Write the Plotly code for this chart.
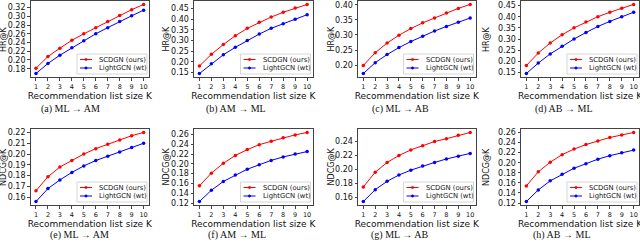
import plotly.graph_objects as go

# ---------------- data ----------------
K = [1, 2, 3, 4, 5, 6, 7, 8, 9, 10]
series_names = ["SCDGN (ours)", "LightGCN (wt)"]

hr_ml_am_scdgn = [0.181, 0.208, 0.227, 0.245, 0.260, 0.274, 0.288, 0.302, 0.315, 0.327]
hr_ml_am_lgcn = [0.169, 0.192, 0.211, 0.228, 0.244, 0.260, 0.274, 0.288, 0.301, 0.314]
hr_am_ml_scdgn = [0.180, 0.235, 0.281, 0.322, 0.357, 0.385, 0.410, 0.432, 0.452, 0.469]
hr_am_ml_lgcn = [0.145, 0.191, 0.233, 0.268, 0.300, 0.330, 0.357, 0.379, 0.400, 0.421]
hr_ml_ab_scdgn = [0.199, 0.241, 0.273, 0.299, 0.321, 0.340, 0.356, 0.373, 0.388, 0.401]
hr_ml_ab_lgcn = [0.172, 0.208, 0.235, 0.258, 0.278, 0.296, 0.313, 0.328, 0.342, 0.356]
hr_ab_ml_scdgn = [0.181, 0.237, 0.282, 0.319, 0.350, 0.376, 0.400, 0.420, 0.438, 0.455]
hr_ab_ml_lgcn = [0.145, 0.192, 0.233, 0.268, 0.300, 0.329, 0.356, 0.379, 0.400, 0.420]
ndcg_ml_am_scdgn = [0.166, 0.179, 0.188, 0.194, 0.200, 0.205, 0.209, 0.213, 0.217, 0.220]
ndcg_ml_am_lgcn = [0.156, 0.168, 0.176, 0.183, 0.189, 0.194, 0.198, 0.202, 0.206, 0.210]
ndcg_am_ml_scdgn = [0.155, 0.181, 0.201, 0.217, 0.229, 0.239, 0.246, 0.253, 0.259, 0.264]
ndcg_am_ml_lgcn = [0.123, 0.146, 0.164, 0.177, 0.189, 0.198, 0.207, 0.214, 0.220, 0.225]
ndcg_ml_ab_scdgn = [0.175, 0.196, 0.210, 0.220, 0.228, 0.234, 0.240, 0.244, 0.249, 0.253]
ndcg_ml_ab_lgcn = [0.154, 0.171, 0.183, 0.192, 0.199, 0.205, 0.210, 0.215, 0.219, 0.223]
ndcg_ab_ml_scdgn = [0.154, 0.182, 0.201, 0.216, 0.227, 0.236, 0.243, 0.250, 0.255, 0.260]
ndcg_ab_ml_lgcn = [0.123, 0.146, 0.164, 0.177, 0.189, 0.198, 0.207, 0.214, 0.220, 0.225]

captions = ["(a) ML \u2192 AM", "(b) AM \u2192 ML", "(c) ML \u2192 AB", "(d) AB \u2192 ML",
            "(e) ML \u2192 AM", "(f) AM \u2192 ML", "(g) ML \u2192 AB", "(h) AB \u2192 ML"]
y_titles = ["HR@K"] * 4 + ["NDCG@K"] * 4
x_title = "Recommendation list size K"
y_dticks = [0.02, 0.05, 0.05, 0.05, 0.01, 0.02, 0.02, 0.02]

panel_data = [
    (hr_ml_am_scdgn, hr_ml_am_lgcn), (hr_am_ml_scdgn, hr_am_ml_lgcn),
    (hr_ml_ab_scdgn, hr_ml_ab_lgcn), (hr_ab_ml_scdgn, hr_ab_ml_lgcn),
    (ndcg_ml_am_scdgn, ndcg_ml_am_lgcn), (ndcg_am_ml_scdgn, ndcg_am_ml_lgcn),
    (ndcg_ml_ab_scdgn, ndcg_ml_ab_lgcn), (ndcg_ab_ml_scdgn, ndcg_ab_ml_lgcn),
]

# ---------------- layout (pixels) ----------------
W, H = 640, 247
col_px = [(30.6, 149.0), (194.0, 312.5), (358.0, 475.5), (521.0, 639.0)]
row_px = [(1.0, 77.0), (129.0, 205.0)]
caption_x = [70, 236, 400, 564, 79, 237, 399, 562]
caption_y = [109, 235]
ytitle_x = [3, 165.5, 330.5, 486, 3, 165.5, 330.5, 486]
colors = ["#ff0000", "#0000ff"]
frame_color = "#444444"

def px(x):
    return x / W

def py(y):
    return 1 - y / H

fig = go.Figure()
shapes = []
annotations = []

for i, (s1, s2) in enumerate(panel_data):
    r, c = divmod(i, 4)
    n = i + 1
    xa = "x" if n == 1 else f"x{n}"
    ya = "y" if n == 1 else f"y{n}"
    for vals, name, col in zip((s1, s2), series_names, colors):
        fig.add_trace(go.Scatter(
            x=K, y=vals, mode="lines+markers", name=name, xaxis=xa, yaxis=ya,
            line=dict(color=col, width=1), marker=dict(color=col, size=3.5),
            showlegend=False))
    lo = min(min(s1), min(s2))
    hi = max(max(s1), max(s2))
    span = hi - lo
    x0, x1 = col_px[c]
    y0, y1 = row_px[r]
    axfont = dict(family="DejaVu Sans", size=9, color="#111111")
    fig.layout[f"xaxis{'' if n == 1 else n}"] = dict(
        domain=[px(x0), px(x1)], anchor=ya, range=[0.55, 10.45], automargin=False,
        tickmode="array", tickvals=K, ticktext=[str(k) for k in K],
        tickfont=dict(family="DejaVu Sans", size=6.5, color="#111111"),
        ticks="outside", ticklen=3, tickwidth=0.8, tickcolor=frame_color,
        showline=True, linecolor=frame_color, linewidth=1, mirror=True,
        showgrid=False, zeroline=False,
        title=dict(text=x_title, font=axfont, standoff=2))
    fig.layout[f"yaxis{'' if n == 1 else n}"] = dict(
        domain=[py(y1), py(y0)], anchor=xa, automargin=False,
        range=[lo - 0.05 * span, hi + 0.05 * span],
        tick0=0, dtick=y_dticks[i], tickformat=".2f",
        tickfont=dict(family="DejaVu Sans", size=8, color="#111111"),
        ticks="outside", ticklen=2.5, tickwidth=0.8, tickcolor=frame_color,
        showline=True, linecolor=frame_color, linewidth=1, mirror=True,
        showgrid=False, zeroline=False)

    # y-axis title
    annotations.append(dict(xref="paper", yref="paper", x=px(ytitle_x[i]),
                            y=py((y0 + y1) / 2), text=y_titles[i], textangle=-90,
                            showarrow=False, xanchor="center", yanchor="middle",
                            font=dict(family="DejaVu Sans", size=8, color="#111111")))

    # legend box (drawn manually, bottom-right inside the plot)
    bx1 = x1 - 2
    bx0 = bx1 - 70
    by1 = y1 - 3
    by0 = by1 - 20
    shapes.append(dict(type="rect", xref="paper", yref="paper",
                       x0=px(bx0), x1=px(bx1), y0=py(by1), y1=py(by0),
                       line=dict(color="#cccccc", width=0.8),
                       fillcolor="rgba(255,255,255,0.85)", layer="above"))
    for j, (name, col) in enumerate(zip(series_names, colors)):
        ly = by0 + 5.5 + j * 8.5
        shapes.append(dict(type="line", xref="paper", yref="paper",
                           x0=px(bx0 + 3), x1=px(bx0 + 15), y0=py(ly), y1=py(ly),
                           line=dict(color=col, width=1), layer="above"))
        shapes.append(dict(type="circle", xref="paper", yref="paper",
                           x0=px(bx0 + 7.8), x1=px(bx0 + 10.2),
                           y0=py(ly + 1.2), y1=py(ly - 1.2),
                           line=dict(color=col, width=0.5), fillcolor=col,
                           layer="above"))
        annotations.append(dict(xref="paper", yref="paper", x=px(bx0 + 20), y=py(ly),
                                text=name, showarrow=False, xanchor="left",
                                yanchor="middle",
                                font=dict(family="DejaVu Sans", size=6.8, color="#111111")))

    annotations.append(dict(xref="paper", yref="paper", x=px(caption_x[i]),
                            y=py(caption_y[r]), text=captions[i], showarrow=False,
                            xanchor="center", yanchor="middle",
                            font=dict(family="Liberation Serif", size=10, color="#111111")))

fig.update_layout(width=W, height=H, margin=dict(l=0, r=0, t=0, b=0),
                  paper_bgcolor="white", plot_bgcolor="white",
                  shapes=shapes, annotations=annotations, showlegend=False)

fig.write_html("out.html", config={"displayModeBar": False},
               post_script="document.body.style.margin='0';document.body.style.overflow='hidden';")
